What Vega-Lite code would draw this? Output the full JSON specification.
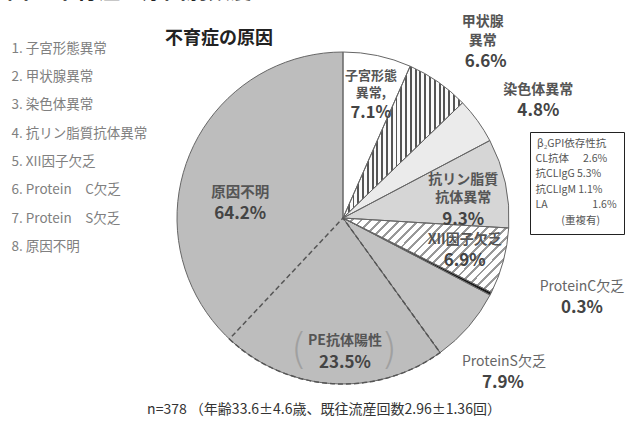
{
"$schema": "https://vega.github.io/schema/vega-lite/v6.json",
"width": 570, "height": 406,
"autosize": {"type": "none"},
"padding": {"left": 58, "top": 15, "right": 0, "bottom": 0},
"background": "#ffffff",
"config": {"view": {"stroke": null}, "font": "Noto Sans CJK JP"},
"datasets": {
 "pie": [
  {"idx":1,"cause":"子宮形態異常","key":"1. 子宮形態異常","value":7.1,"name":"子宮形態\n異常,","pct":"7.1%"},
  {"idx":2,"cause":"甲状腺異常","key":"2. 甲状腺異常","value":6.6,"name":"甲状腺\n異常","pct":"6.6%"},
  {"idx":3,"cause":"染色体異常","key":"3. 染色体異常","value":4.8,"name":"染色体異常","pct":"4.8%"},
  {"idx":4,"cause":"抗リン脂質抗体異常","key":"4. 抗リン脂質抗体異常","value":9.3,"name":"抗リン脂質\n抗体異常","pct":"9.3%"},
  {"idx":5,"cause":"XII因子欠乏","key":"5. XII因子欠乏","value":6.9,"name":"XII因子欠乏","pct":"6.9%"},
  {"idx":6,"cause":"ProteinC欠乏","key":"6. Protein　C欠乏","value":0.3,"name":"ProteinC欠乏","pct":"0.3%"},
  {"idx":7,"cause":"ProteinS欠乏","key":"7. Protein　S欠乏","value":7.9,"name":"ProteinS欠乏","pct":"7.9%"},
  {"idx":8,"cause":"原因不明","key":"8. 原因不明","value":64.2,"name":"原因不明","pct":"64.2%"}
 ],
 "split": [
  {"idx":1,"cause":"子宮形態異常","value":7.1},
  {"idx":2,"cause":"甲状腺異常","value":6.6},
  {"idx":3,"cause":"染色体異常","value":4.8},
  {"idx":4,"cause":"抗リン脂質抗体異常","value":9.3},
  {"idx":5,"cause":"XII因子欠乏","value":6.9},
  {"idx":6,"cause":"ProteinC欠乏","value":0.3},
  {"idx":7,"cause":"ProteinS欠乏","value":7.9},
  {"idx":8,"cause":"PE抗体陽性","value":23.5,"name":"PE抗体陽性","pct":"23.5%"},
  {"idx":9,"cause":"原因不明（PE抗体陰性）","value":40.7}
 ],
 "apl": [
  {"entry":"CL抗体\u00a0\u00a0\u00a0\u00a0\u00a0 2.6%"},
  {"entry":"抗CLIgG 5.3%"},
  {"entry":"抗CLIgM 1.1%"},
  {"entry":"LA\u00a0\u00a0\u00a0\u00a0\u00a0\u00a0\u00a0\u00a0\u00a0\u00a0\u00a0\u00a0\u00a0\u00a0\u00a0\u00a0\u00a0\u00a0 1.6%"},
  {"entry":"\u200b\u00a0\u00a0\u00a0\u00a0\u00a0\u00a0\u00a0\u00a0\u00a0\u00a0\u00a0(重複有)"}
 ]
},
"layer": [
 {
  "data": {"name": "pie"},
  "encoding": {
   "theta": {"field": "value", "type": "quantitative", "stack": true},
   "order": {"field": "idx", "type": "quantitative"}
  },
  "layer": [
   {"mark": {"type": "arc", "radius": 166},
    "encoding": {"fill": {"field": "key", "type": "nominal",
      "scale": {"range": ["#ffffff","#ffffff","#ebebeb","#d6d6d6","#ffffff","#1a1a1a","#c2c2c2","#bdbdbd"]},
      "legend": {"orient": "none", "legendX": -60, "legendY": 27, "title": null, "symbolSize": 0, "symbolStrokeWidth": 0, "symbolOpacity": 0, "labelOffset": 0, "labelFont": "Noto Sans CJK JP", "labelFontSize": 13.5, "labelColor": "#808080", "rowPadding": 13.3, "padding": 0, "labelLimit": 300}}}},
   {"mark": {"type": "arc", "radius": 166},
    "encoding": {"fill": {"condition": [
      {"test": "datum.idx === 2", "value": {"gradient": "linear", "x1": 0, "y1": 0, "x2": 1, "y2": 0, "stops": [
       {"offset":0,"color":"#555"},{"offset":0.016,"color":"#555"},{"offset":0.016,"color":"#fafafa"},{"offset":0.04,"color":"#fafafa"},
       {"offset":0.04,"color":"#555"},{"offset":0.056,"color":"#555"},{"offset":0.056,"color":"#fafafa"},{"offset":0.08,"color":"#fafafa"},
       {"offset":0.08,"color":"#555"},{"offset":0.096,"color":"#555"},{"offset":0.096,"color":"#fafafa"},{"offset":0.12,"color":"#fafafa"},
       {"offset":0.12,"color":"#555"},{"offset":0.136,"color":"#555"},{"offset":0.136,"color":"#fafafa"},{"offset":0.16,"color":"#fafafa"},
       {"offset":0.16,"color":"#555"},{"offset":0.176,"color":"#555"},{"offset":0.176,"color":"#fafafa"},{"offset":0.2,"color":"#fafafa"},
       {"offset":0.2,"color":"#555"},{"offset":0.216,"color":"#555"},{"offset":0.216,"color":"#fafafa"},{"offset":0.24,"color":"#fafafa"},
       {"offset":0.24,"color":"#555"},{"offset":0.256,"color":"#555"},{"offset":0.256,"color":"#fafafa"},{"offset":0.28,"color":"#fafafa"},
       {"offset":0.28,"color":"#555"},{"offset":0.296,"color":"#555"},{"offset":0.296,"color":"#fafafa"},{"offset":0.32,"color":"#fafafa"},
       {"offset":0.32,"color":"#555"},{"offset":0.336,"color":"#555"},{"offset":0.336,"color":"#fafafa"},{"offset":0.36,"color":"#fafafa"},
       {"offset":0.36,"color":"#555"},{"offset":0.376,"color":"#555"},{"offset":0.376,"color":"#fafafa"},{"offset":0.4,"color":"#fafafa"},
       {"offset":0.4,"color":"#555"},{"offset":0.416,"color":"#555"},{"offset":0.416,"color":"#fafafa"},{"offset":0.44,"color":"#fafafa"},
       {"offset":0.44,"color":"#555"},{"offset":0.456,"color":"#555"},{"offset":0.456,"color":"#fafafa"},{"offset":0.48,"color":"#fafafa"},
       {"offset":0.48,"color":"#555"},{"offset":0.496,"color":"#555"},{"offset":0.496,"color":"#fafafa"},{"offset":0.52,"color":"#fafafa"},
       {"offset":0.52,"color":"#555"},{"offset":0.536,"color":"#555"},{"offset":0.536,"color":"#fafafa"},{"offset":0.56,"color":"#fafafa"},
       {"offset":0.56,"color":"#555"},{"offset":0.576,"color":"#555"},{"offset":0.576,"color":"#fafafa"},{"offset":0.6,"color":"#fafafa"},
       {"offset":0.6,"color":"#555"},{"offset":0.616,"color":"#555"},{"offset":0.616,"color":"#fafafa"},{"offset":0.64,"color":"#fafafa"},
       {"offset":0.64,"color":"#555"},{"offset":0.656,"color":"#555"},{"offset":0.656,"color":"#fafafa"},{"offset":0.68,"color":"#fafafa"},
       {"offset":0.68,"color":"#555"},{"offset":0.696,"color":"#555"},{"offset":0.696,"color":"#fafafa"},{"offset":0.72,"color":"#fafafa"},
       {"offset":0.72,"color":"#555"},{"offset":0.736,"color":"#555"},{"offset":0.736,"color":"#fafafa"},{"offset":0.76,"color":"#fafafa"},
       {"offset":0.76,"color":"#555"},{"offset":0.776,"color":"#555"},{"offset":0.776,"color":"#fafafa"},{"offset":0.8,"color":"#fafafa"},
       {"offset":0.8,"color":"#555"},{"offset":0.816,"color":"#555"},{"offset":0.816,"color":"#fafafa"},{"offset":0.84,"color":"#fafafa"},
       {"offset":0.84,"color":"#555"},{"offset":0.856,"color":"#555"},{"offset":0.856,"color":"#fafafa"},{"offset":0.88,"color":"#fafafa"},
       {"offset":0.88,"color":"#555"},{"offset":0.896,"color":"#555"},{"offset":0.896,"color":"#fafafa"},{"offset":0.92,"color":"#fafafa"},
       {"offset":0.92,"color":"#555"},{"offset":0.936,"color":"#555"},{"offset":0.936,"color":"#fafafa"},{"offset":0.96,"color":"#fafafa"},
       {"offset":0.96,"color":"#555"},{"offset":0.976,"color":"#555"},{"offset":0.976,"color":"#fafafa"},{"offset":1,"color":"#fafafa"}]}},
      {"test": "datum.idx === 5", "value": {"gradient": "linear", "x1": 0, "y1": 0, "x2": 1.2, "y2": 0.535, "stops": [
       {"offset":0,"color":"#999"},{"offset":0.012,"color":"#999"},{"offset":0.012,"color":"#fff"},{"offset":0.04,"color":"#fff"},
       {"offset":0.04,"color":"#999"},{"offset":0.052,"color":"#999"},{"offset":0.052,"color":"#fff"},{"offset":0.08,"color":"#fff"},
       {"offset":0.08,"color":"#999"},{"offset":0.092,"color":"#999"},{"offset":0.092,"color":"#fff"},{"offset":0.12,"color":"#fff"},
       {"offset":0.12,"color":"#999"},{"offset":0.132,"color":"#999"},{"offset":0.132,"color":"#fff"},{"offset":0.16,"color":"#fff"},
       {"offset":0.16,"color":"#999"},{"offset":0.172,"color":"#999"},{"offset":0.172,"color":"#fff"},{"offset":0.2,"color":"#fff"},
       {"offset":0.2,"color":"#999"},{"offset":0.212,"color":"#999"},{"offset":0.212,"color":"#fff"},{"offset":0.24,"color":"#fff"},
       {"offset":0.24,"color":"#999"},{"offset":0.252,"color":"#999"},{"offset":0.252,"color":"#fff"},{"offset":0.28,"color":"#fff"},
       {"offset":0.28,"color":"#999"},{"offset":0.292,"color":"#999"},{"offset":0.292,"color":"#fff"},{"offset":0.32,"color":"#fff"},
       {"offset":0.32,"color":"#999"},{"offset":0.332,"color":"#999"},{"offset":0.332,"color":"#fff"},{"offset":0.36,"color":"#fff"},
       {"offset":0.36,"color":"#999"},{"offset":0.372,"color":"#999"},{"offset":0.372,"color":"#fff"},{"offset":0.4,"color":"#fff"},
       {"offset":0.4,"color":"#999"},{"offset":0.412,"color":"#999"},{"offset":0.412,"color":"#fff"},{"offset":0.44,"color":"#fff"},
       {"offset":0.44,"color":"#999"},{"offset":0.452,"color":"#999"},{"offset":0.452,"color":"#fff"},{"offset":0.48,"color":"#fff"},
       {"offset":0.48,"color":"#999"},{"offset":0.492,"color":"#999"},{"offset":0.492,"color":"#fff"},{"offset":0.52,"color":"#fff"},
       {"offset":0.52,"color":"#999"},{"offset":0.532,"color":"#999"},{"offset":0.532,"color":"#fff"},{"offset":0.56,"color":"#fff"},
       {"offset":0.56,"color":"#999"},{"offset":0.572,"color":"#999"},{"offset":0.572,"color":"#fff"},{"offset":0.6,"color":"#fff"},
       {"offset":0.6,"color":"#999"},{"offset":0.612,"color":"#999"},{"offset":0.612,"color":"#fff"},{"offset":0.64,"color":"#fff"},
       {"offset":0.64,"color":"#999"},{"offset":0.652,"color":"#999"},{"offset":0.652,"color":"#fff"},{"offset":0.68,"color":"#fff"},
       {"offset":0.68,"color":"#999"},{"offset":0.692,"color":"#999"},{"offset":0.692,"color":"#fff"},{"offset":0.72,"color":"#fff"},
       {"offset":0.72,"color":"#999"},{"offset":0.732,"color":"#999"},{"offset":0.732,"color":"#fff"},{"offset":0.76,"color":"#fff"},
       {"offset":0.76,"color":"#999"},{"offset":0.772,"color":"#999"},{"offset":0.772,"color":"#fff"},{"offset":0.8,"color":"#fff"},
       {"offset":0.8,"color":"#999"},{"offset":0.812,"color":"#999"},{"offset":0.812,"color":"#fff"},{"offset":0.84,"color":"#fff"},
       {"offset":0.84,"color":"#999"},{"offset":0.852,"color":"#999"},{"offset":0.852,"color":"#fff"},{"offset":0.88,"color":"#fff"},
       {"offset":0.88,"color":"#999"},{"offset":0.892,"color":"#999"},{"offset":0.892,"color":"#fff"},{"offset":0.92,"color":"#fff"},
       {"offset":0.92,"color":"#999"},{"offset":0.932,"color":"#999"},{"offset":0.932,"color":"#fff"},{"offset":0.96,"color":"#fff"},
       {"offset":0.96,"color":"#999"},{"offset":0.972,"color":"#999"},{"offset":0.972,"color":"#fff"},{"offset":1,"color":"#fff"}]}}
     ], "value": "transparent"}}},
   {"mark": {"type": "arc", "radius": 166, "fillOpacity": 0, "stroke": "#666666", "strokeWidth": 1}},
   {"data": {"name": "split"},
    "mark": {"type": "arc", "radius": 166, "fillOpacity": 0, "stroke": "#555555", "strokeWidth": 1.5, "strokeDash": [5, 3]},
    "encoding": {"strokeOpacity": {"condition": {"test": "datum.idx === 8", "value": 1}, "value": 0}}},

   {"mark": {"type": "text", "radius": 135, "dx": 0, "dy": -10, "fontSize": 13, "fontWeight": "bold", "color": "#555555", "lineBreak": "\n", "lineHeight": 17, "align": "center", "baseline": "middle"},
    "encoding": {"text": {"condition": {"test": "datum.idx === 1", "field": "name"}, "value": ""}}},
   {"mark": {"type": "text", "radius": 135, "dx": 0, "dy": 27, "fontSize": 16.5, "fontWeight": "bold", "color": "#444444", "align": "center", "baseline": "middle"},
    "encoding": {"text": {"condition": {"test": "datum.idx === 1", "field": "pct"}, "value": ""}}},

   {"mark": {"type": "text", "radius": 228, "dx": 9, "dy": -9, "fontSize": 14, "fontWeight": "bold", "color": "#555555", "lineBreak": "\n", "lineHeight": 19, "align": "center", "baseline": "middle"},
    "encoding": {"text": {"condition": {"test": "datum.idx === 2", "field": "name"}, "value": ""}}},
   {"mark": {"type": "text", "radius": 228, "dx": 12, "dy": 31, "fontSize": 17, "fontWeight": "bold", "color": "#444444", "align": "center", "baseline": "middle"},
    "encoding": {"text": {"condition": {"test": "datum.idx === 2", "field": "pct"}, "value": ""}}},

   {"mark": {"type": "text", "radius": 230, "dx": 9, "dy": 7, "fontSize": 14, "fontWeight": "bold", "color": "#555555", "align": "center", "baseline": "middle"},
    "encoding": {"text": {"condition": {"test": "datum.idx === 3", "field": "name"}, "value": ""}}},
   {"mark": {"type": "text", "radius": 230, "dx": 9, "dy": 28, "fontSize": 17, "fontWeight": "bold", "color": "#444444", "align": "center", "baseline": "middle"},
    "encoding": {"text": {"condition": {"test": "datum.idx === 3", "field": "pct"}, "value": ""}}},

   {"mark": {"type": "text", "radius": 123, "dx": 0, "dy": -12, "fontSize": 14, "fontWeight": "bold", "color": "#555555", "lineBreak": "\n", "lineHeight": 18, "align": "center", "baseline": "middle"},
    "encoding": {"text": {"condition": {"test": "datum.idx === 4", "field": "name"}, "value": ""}}},
   {"mark": {"type": "text", "radius": 123, "dx": 0, "dy": 28, "fontSize": 17, "fontWeight": "bold", "color": "#444444", "align": "center", "baseline": "middle"},
    "encoding": {"text": {"condition": {"test": "datum.idx === 4", "field": "pct"}, "value": ""}}},

   {"mark": {"type": "text", "radius": 126, "dx": 0, "dy": -11, "fontSize": 14, "fontWeight": "bold", "color": "#555555", "align": "center", "baseline": "middle"},
    "encoding": {"text": {"condition": {"test": "datum.idx === 5", "field": "name"}, "value": ""}}},
   {"mark": {"type": "text", "radius": 126, "dx": 0, "dy": 10, "fontSize": 17, "fontWeight": "bold", "color": "#444444", "align": "center", "baseline": "middle"},
    "encoding": {"text": {"condition": {"test": "datum.idx === 5", "field": "pct"}, "value": ""}}},

   {"mark": {"type": "text", "radius": 200, "dx": 61, "dy": -22, "fontSize": 14, "fontWeight": "normal", "color": "#666666", "align": "center", "baseline": "middle"},
    "encoding": {"text": {"condition": {"test": "datum.idx === 6", "field": "name"}, "value": ""}}},
   {"mark": {"type": "text", "radius": 200, "dx": 61, "dy": -1, "fontSize": 17, "fontWeight": "bold", "color": "#444444", "align": "center", "baseline": "middle"},
    "encoding": {"text": {"condition": {"test": "datum.idx === 6", "field": "pct"}, "value": ""}}},

   {"mark": {"type": "text", "radius": 213, "dx": 0, "dy": 4, "fontSize": 14, "fontWeight": "normal", "color": "#666666", "align": "center", "baseline": "middle"},
    "encoding": {"text": {"condition": {"test": "datum.idx === 7", "field": "name"}, "value": ""}}},
   {"mark": {"type": "text", "radius": 213, "dx": -1, "dy": 25, "fontSize": 17, "fontWeight": "bold", "color": "#444444", "align": "center", "baseline": "middle"},
    "encoding": {"text": {"condition": {"test": "datum.idx === 7", "field": "pct"}, "value": ""}}},

   {"mark": {"type": "text", "radius": 106, "dx": -2, "dy": -58, "fontSize": 14.5, "fontWeight": "bold", "color": "#555555", "align": "center", "baseline": "middle"},
    "encoding": {"text": {"condition": {"test": "datum.idx === 8", "field": "name"}, "value": ""}}},
   {"mark": {"type": "text", "radius": 106, "dx": -2, "dy": -37, "fontSize": 17, "fontWeight": "bold", "color": "#444444", "align": "center", "baseline": "middle"},
    "encoding": {"text": {"condition": {"test": "datum.idx === 8", "field": "pct"}, "value": ""}}},

   {"data": {"name": "split"},
    "mark": {"type": "text", "radius": 124, "dx": 10, "dy": -1, "fontSize": 14, "fontWeight": "bold", "color": "#555555", "align": "center", "baseline": "middle"},
    "encoding": {"text": {"condition": {"test": "datum.idx === 8", "field": "name"}, "value": ""}}},
   {"data": {"name": "split"},
    "mark": {"type": "text", "radius": 124, "dx": 10, "dy": 21, "fontSize": 17, "fontWeight": "bold", "color": "#444444", "align": "center", "baseline": "middle"},
    "encoding": {"text": {"condition": {"test": "datum.idx === 8", "field": "pct"}, "value": ""}}},
   {"data": {"name": "split"},
    "mark": {"type": "text", "radius": 124, "dx": -36, "dy": 9, "font": "DejaVu Sans", "fontSize": 42, "fontWeight": 200, "color": "#a0a0a0", "align": "center", "baseline": "middle"},
    "encoding": {"text": {"condition": {"test": "datum.idx === 8", "value": "("}, "value": ""}}},
   {"data": {"name": "split"},
    "mark": {"type": "text", "radius": 124, "dx": 54, "dy": 9, "font": "DejaVu Sans", "fontSize": 42, "fontWeight": 200, "color": "#a0a0a0", "align": "center", "baseline": "middle"},
    "encoding": {"text": {"condition": {"test": "datum.idx === 8", "value": ")"}, "value": ""}}}
  ]
 },
 {
  "data": {"name": "apl"},
  "mark": {"type": "point", "opacity": 0},
  "encoding": {"shape": {"field": "entry", "type": "nominal", "sort": null,
   "legend": {"orient": "none", "legendX": 472, "legendY": 117, "title": "β₂GPI依存性抗", "titleFont": "Noto Sans CJK JP", "titleFontSize": 10.5, "titleFontWeight": "normal", "titleColor": "#555555", "titlePadding": 4, "labelFont": "Noto Sans CJK JP", "labelFontSize": 10.5, "labelColor": "#555555", "symbolSize": 0, "symbolOpacity": 0, "symbolStrokeWidth": 0, "labelOffset": -12, "rowPadding": 4.5, "padding": 7, "strokeColor": "#222222", "labelLimit": 200,
    "encode": {"legend": {"update": {"strokeWidth": {"value": 2}}}}}}}
 },
 {"data": {"values": [{}]}, "mark": {"type": "text", "x": -51, "y": -12, "text": "図1. 不育症の原因別頻度", "fontSize": 22, "fontWeight": "bold", "color": "#222222", "align": "left", "baseline": "bottom"}},
 {"data": {"values": [{}]}, "mark": {"type": "rule", "x": -58, "x2": 555, "y": -5, "y2": -5, "stroke": "#9a9a9a", "strokeWidth": 2}, "encoding": {}},
 {"data": {"values": [{}]}, "mark": {"type": "text", "x": 161, "y": 24, "text": "不育症の原因", "fontSize": 18, "fontWeight": "bold", "color": "#222222", "align": "center", "baseline": "middle"}},
 {"data": {"values": [{}]}, "mark": {"type": "text", "x": 266, "y": 395, "text": "n=378 （年齢33.6±4.6歳、既往流産回数2.96±1.36回）", "fontSize": 14, "color": "#333333", "align": "center", "baseline": "middle"}},
 {"data": {"values": [{}]}, "mark": {"type": "rule", "x": 385, "y": 65, "x2": 410, "y2": 50, "stroke": "#777777", "strokeWidth": 1}, "encoding": {}},
 {"data": {"values": [{}]}, "mark": {"type": "rule", "x": 424, "y": 117, "x2": 444, "y2": 75, "stroke": "#777777", "strokeWidth": 1}, "encoding": {}},
 {"data": {"values": [{}]}, "mark": {"type": "rule", "x": 444, "y": 142, "x2": 472, "y2": 137, "stroke": "#111111", "strokeWidth": 2.5}, "encoding": {}},
 {"data": {"values": [{}]}, "mark": {"type": "rule", "x": 433, "y": 279, "x2": 479, "y2": 277, "stroke": "#777777", "strokeWidth": 1}, "encoding": {}},
 {"data": {"values": [{}]}, "mark": {"type": "rule", "x": 411, "y": 312, "x2": 411, "y2": 337, "stroke": "#777777", "strokeWidth": 1}, "encoding": {}}
]
}
